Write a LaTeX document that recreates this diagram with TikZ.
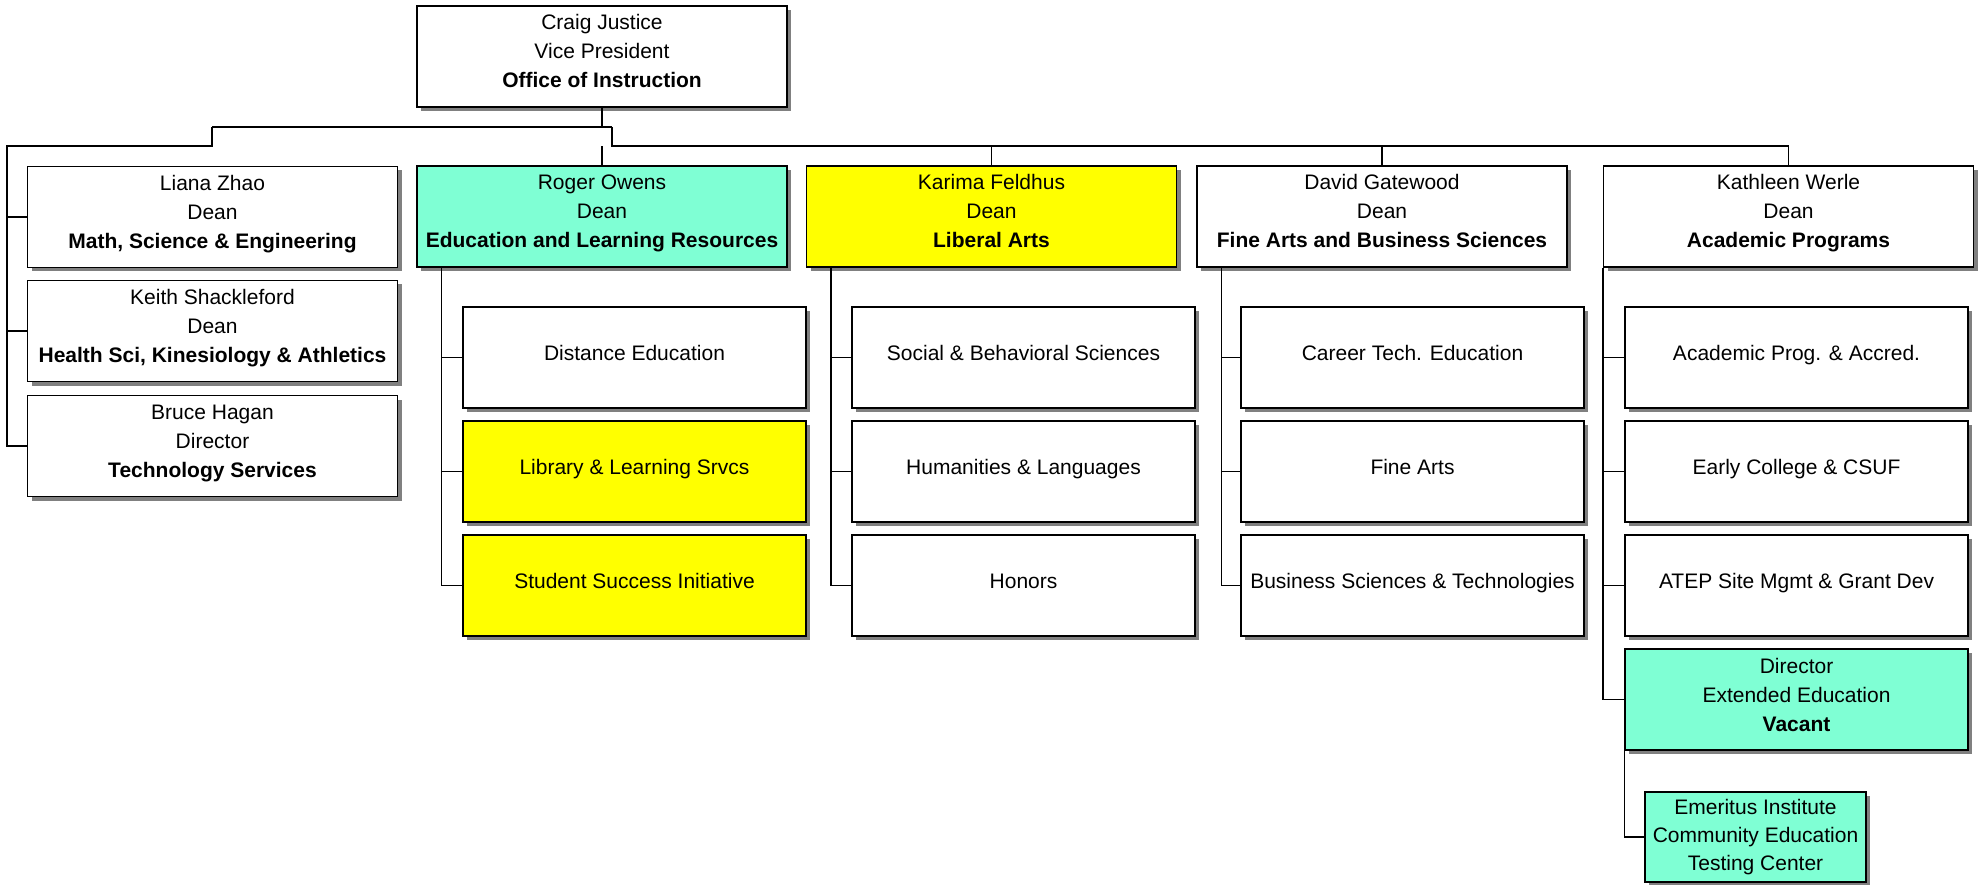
\documentclass[tikz,border=0pt]{standalone}
\usepackage{fontspec}
\setmainfont{Liberation Sans}
\usepackage{xcolor}
\definecolor{orgteal}{HTML}{7FFFD4}
\definecolor{orgyel}{HTML}{FFFF00}
\definecolor{orgshade}{HTML}{808080}
\usepackage{tikz}
\usetikzlibrary{positioning,shadows,calc}
\newcommand\orgfont{\fontsize{21}{29}\selectfont}
\newcommand\orgtop{\rule{0pt}{17pt}}
\newcommand\orgbot{\rule[-12pt]{0pt}{12pt}}
\tikzset{
  orgbox/.style={draw,line width=1.5pt,fill=white,minimum width=370pt,minimum height=101pt,inner sep=0pt,align=center,font=\orgfont,
    drop shadow={shadow xshift=4pt,shadow yshift=-4pt,fill=orgshade,opacity=1}},
  orgsub/.style={orgbox,minimum width=343pt},
  orgsmall/.style={orgbox,minimum width=221pt,minimum height=90pt,font=\fontsize{21}{28.3}\selectfont},
  tealfill/.style={fill=orgteal},
  yelfill/.style={fill=orgyel},
  orgline/.style={line width=1.5pt},
}

\begin{document}
\begin{tikzpicture}[x=1pt,y=-1pt,node distance=11.5pt]
\useasboundingbox (0,0) rectangle (1984,885);
\node[orgbox] (vp) at (602,56.5) {\orgtop Craig Justice\\Vice President\\\textbf{Office of Instruction}\orgbot};
\node[orgbox] (mse) at (212.5,217) {\orgtop Liana Zhao\\Dean\\\textbf{Math, Science \& Engineering}\orgbot};
\node[orgbox] (hka) at (212.5,331) {\orgtop Keith Shackleford\\Dean\\\textbf{Health Sci, Kinesiology \& Athletics}\orgbot};
\node[orgbox] (tech) at (212.5,446) {\orgtop Bruce Hagan\\Director\\\textbf{Technology Services}\orgbot};
\node[orgbox,tealfill] (elr) at (602,216.5) {\orgtop Roger Owens\\Dean\\\textbf{Education and Learning Resources}\orgbot};
\node[orgbox,yelfill] (lib) at (991.5,216.5) {\orgtop Karima Feldhus\\Dean\\\textbf{Liberal Arts}\orgbot};
\node[orgbox] (fab) at (1382,216.5) {\orgtop David Gatewood\\Dean\\\textbf{Fine Arts and Business Sciences}\orgbot};
\node[orgbox] (ap) at (1788.5,216.5) {\orgtop Kathleen Werle\\Dean\\\textbf{Academic Programs}\orgbot};
\node[orgsub] (dist) at (634.5,357.5) {\orgtop Distance Education\orgbot};
\node[orgsub,yelfill,below=of dist] (lls) {\orgtop Library \& Learning Srvcs\orgbot};
\node[orgsub,yelfill,below=of lls] (ssi) {\orgtop Student Success Initiative\orgbot};
\node[orgsub] (sbs) at (1023.5,357.5) {\orgtop Social \& Behavioral Sciences\orgbot};
\node[orgsub,below=of sbs] (hum) {\orgtop Humanities \& Languages\orgbot};
\node[orgsub,below=of hum] (hon) {\orgtop Honors\orgbot};
\node[orgsub] (cte) at (1412.5,357.5) {\orgtop Career Tech. Education\orgbot};
\node[orgsub,below=of cte] (fa) {\orgtop Fine Arts\orgbot};
\node[orgsub,below=of fa] (bst) {\orgtop Business Sciences \& Technologies\orgbot};
\node[orgsub] (apa) at (1796.5,357.5) {\orgtop Academic Prog. \& Accred.\orgbot};
\node[orgsub,below=of apa] (ecc) {\orgtop Early College \& CSUF\orgbot};
\node[orgsub,below=of ecc] (atep) {\orgtop ATEP Site Mgmt \& Grant Dev\orgbot};
\node[orgsub,tealfill,below=of atep] (ext) {\orgtop Director\\Extended Education\\\textbf{Vacant}\orgbot};
\node[orgsmall,tealfill] (emi) at (1755.5,837) {Emeritus Institute\\Community Education\\Testing Center};
\coordinate (staffknee) at (212,127);
\coordinate (deanknee) at (612,127);
\coordinate (staffrail) at (7,146);
\coordinate (deanbar) at (0,146);
\draw[orgline] (vp.south) -- (vp.south |- deanknee);
\draw[orgline] (staffknee) -- (deanknee);
\draw[orgline] (staffknee) |- (staffrail) |- (tech.west);
\draw[orgline] (mse.west) -- (mse.west -| staffrail);
\draw[orgline] (hka.west) -- (hka.west -| staffrail);
\draw[orgline] (deanknee) -- (deanknee |- deanbar) -| (ap.north);
\draw[orgline] (elr.north) -- (elr.north |- deanbar);
\draw[orgline] (lib.north) -- (lib.north |- deanbar);
\draw[orgline] (fab.north) -- (fab.north |- deanbar);
\coordinate (elrrail) at ([xshift=25pt]elr.south west);
\coordinate (librail) at ([xshift=25pt]lib.south west);
\coordinate (fabrail) at ([xshift=25pt]fab.south west);
\draw[orgline] (elrrail) |- (ssi.west);
\draw[orgline] (dist.west) -- (dist.west -| elrrail);
\draw[orgline] (lls.west) -- (lls.west -| elrrail);
\draw[orgline] (librail) |- (hon.west);
\draw[orgline] (sbs.west) -- (sbs.west -| librail);
\draw[orgline] (hum.west) -- (hum.west -| librail);
\draw[orgline] (fabrail) |- (bst.west);
\draw[orgline] (cte.west) -- (cte.west -| fabrail);
\draw[orgline] (fa.west) -- (fa.west -| fabrail);
\draw[orgline] (ap.south west) |- (ext.west);
\draw[orgline] (apa.west) -- (apa.west -| ap.south west);
\draw[orgline] (ecc.west) -- (ecc.west -| ap.south west);
\draw[orgline] (atep.west) -- (atep.west -| ap.south west);
\draw[orgline] (ext.south west) |- (emi.west);
\end{tikzpicture}
\end{document}
